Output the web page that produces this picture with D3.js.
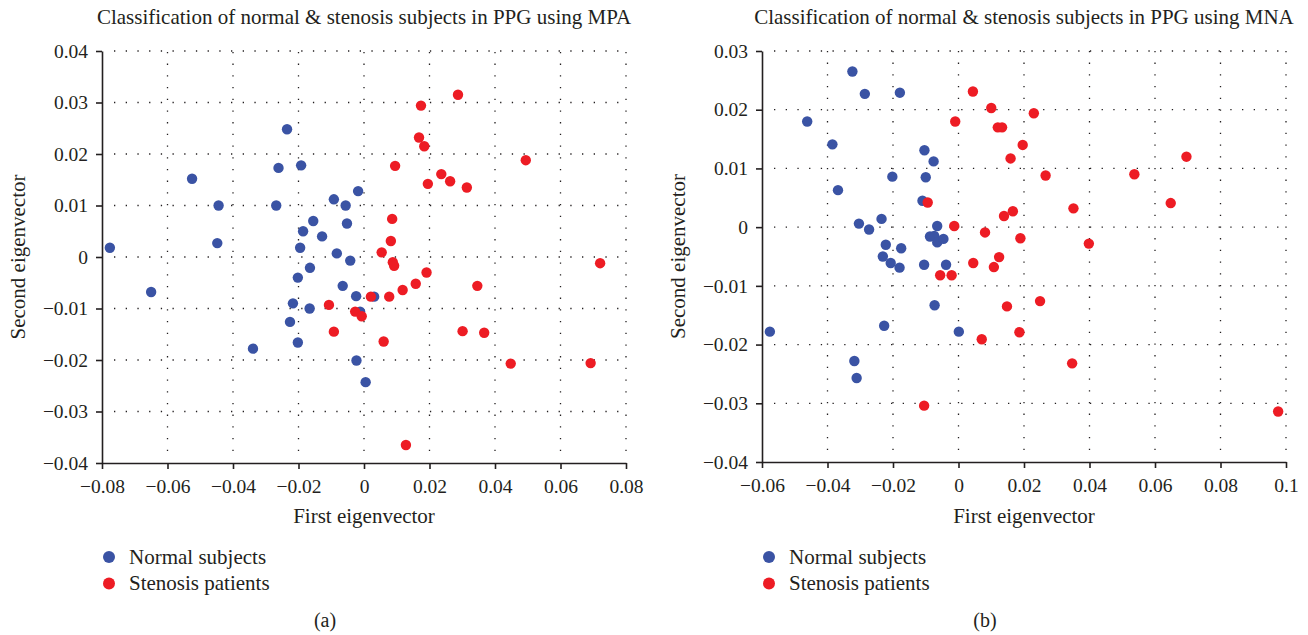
<!DOCTYPE html>
<html>
<head>
<meta charset="utf-8">
<script src="https://cdn.jsdelivr.net/npm/d3@7"></script>
<style>
    body { margin: 0; background: #fff; }
    text { font-family: "Liberation Serif", "DejaVu Serif", serif; fill: #231f20; }
</style>
</head>
<body>
<svg id="chart" width="1308" height="635"></svg>
<script>
// MPA panel (a)
const mpaNormal = [
    [-0.0776, 0.0018], [-0.0525, 0.0152], [-0.0444, 0.0100], [-0.0448, 0.0027],
    [-0.0235, 0.0248], [-0.0261, 0.0173], [-0.0192, 0.0178], [-0.0268, 0.0100],
    [-0.0092, 0.0112], [-0.0056, 0.0100], [-0.0018, 0.0128], [-0.0155, 0.0070],
    [-0.0186, 0.0050], [-0.0052, 0.0065], [-0.0128, 0.0040], [-0.0195, 0.0018],
    [-0.0083, 0.0007], [-0.0042, -0.0007], [-0.0165, -0.0021], [-0.0202, -0.0040],
    [-0.0650, -0.0068], [-0.0065, -0.0056], [-0.0024, -0.0076], [-0.0217, -0.0090],
    [-0.0166, -0.0100], [-0.0226, -0.0126], [-0.0202, -0.0166], [-0.0339, -0.0178],
    [-0.0023, -0.0201], [0.0005, -0.0243], [-0.0012, -0.0106], [0.0031, -0.0077]
];
const mpaStenosis = [
    [0.0287, 0.0315], [0.0174, 0.0294], [0.0168, 0.0232], [0.0184, 0.0215],
    [0.0494, 0.0188], [0.0095, 0.0177], [0.0236, 0.0161], [0.0263, 0.0147],
    [0.0195, 0.0142], [0.0314, 0.0135], [0.0086, 0.0074], [0.0082, 0.0031],
    [0.0054, 0.0009], [0.0088, -0.0010], [0.0092, -0.0017], [0.0721, -0.0012],
    [0.0191, -0.0030], [0.0346, -0.0056], [0.0158, -0.0052], [0.0118, -0.0064],
    [0.0077, -0.0077], [0.0021, -0.0077], [-0.0107, -0.0093], [-0.0027, -0.0106],
    [-0.0007, -0.0115], [-0.0092, -0.0145], [0.0301, -0.0144], [0.0367, -0.0147],
    [0.0060, -0.0164], [0.0448, -0.0207], [0.0692, -0.0206], [0.0128, -0.0365]
];
const mpaXTicks = [-0.08, -0.06, -0.04, -0.02, 0, 0.02, 0.04, 0.06, 0.08];
const mpaYTicks = [-0.04, -0.03, -0.02, -0.01, 0, 0.01, 0.02, 0.03, 0.04];

// MNA panel (b)
const mnaNormal = [
    [-0.0324, 0.0265], [-0.0286, 0.0227], [-0.0179, 0.0229], [-0.0462, 0.0180],
    [-0.0385, 0.0141], [-0.0368, 0.0063], [-0.0104, 0.0131], [-0.0076, 0.0112],
    [-0.0202, 0.0086], [-0.0100, 0.0085], [-0.0110, 0.0045], [-0.0304, 0.0006],
    [-0.0273, -0.0004], [-0.0235, 0.0014], [-0.0065, 0.0002], [-0.0087, -0.0016],
    [-0.0074, -0.0015], [-0.0065, -0.0026], [-0.0046, -0.0020], [-0.0222, -0.0030],
    [-0.0175, -0.0036], [-0.0231, -0.0050], [-0.0207, -0.0061], [-0.0180, -0.0069],
    [-0.0105, -0.0064], [-0.0038, -0.0064], [-0.0073, -0.0133], [-0.0227, -0.0168],
    [-0.0576, -0.0178], [0.0001, -0.0178], [-0.0318, -0.0228], [-0.0311, -0.0257]
];
const mnaStenosis = [
    [0.0044, 0.0231], [0.0100, 0.0203], [-0.0010, 0.0180], [0.0120, 0.0170],
    [0.0133, 0.0170], [0.0230, 0.0194], [0.0196, 0.0140], [0.0159, 0.0117],
    [-0.0094, 0.0042], [-0.0013, 0.0002], [0.0081, -0.0009], [0.0139, 0.0019],
    [0.0166, 0.0027], [0.0189, -0.0019], [0.0045, -0.0061], [0.0124, -0.0051],
    [0.0108, -0.0068], [-0.0056, -0.0082], [-0.0021, -0.0082], [0.0266, 0.0088],
    [0.0537, 0.0090], [0.0696, 0.0120], [0.0648, 0.0041], [0.0351, 0.0032],
    [0.0398, -0.0028], [0.0148, -0.0135], [0.0249, -0.0126], [0.0186, -0.0179],
    [0.0071, -0.0191], [0.0347, -0.0232], [0.0976, -0.0314], [-0.0105, -0.0304]
];
const mnaXTicks = [-0.06, -0.04, -0.02, 0, 0.02, 0.04, 0.06, 0.08, 0.1];
const mnaYTicks = [-0.04, -0.03, -0.02, -0.01, 0, 0.01, 0.02, 0.03];

const seriesNames = ['Normal subjects', 'Stenosis patients'];
const colors = ['#3a53a4', '#ed1c24'];
const axisColor = '#231f20';

const svg = d3.select('#chart');
const fmt = d3.format('~g');

function drawPanel(cfg) {
    const x = d3.scaleLinear().domain(cfg.xDomain).range([cfg.left, cfg.right]);
    const y = d3.scaleLinear().domain(cfg.yDomain).range([cfg.bottom, cfg.top]);
    const g = svg.append('g');

    // dotted grid
    const grid = g.append('g')
        .attr('stroke', axisColor)
        .attr('stroke-width', 1.3)
        .attr('stroke-dasharray', '1.3,10.4');

    grid.selectAll('line.v')
        .data(cfg.xTicks.slice(1))
        .enter()
        .append('line')
        .attr('x1', d => x(d))
        .attr('x2', d => x(d))
        .attr('y1', cfg.bottom - 12)
        .attr('y2', cfg.top);

    grid.selectAll('line.h')
        .data(cfg.yTicks.slice(1))
        .enter()
        .append('line')
        .attr('x1', cfg.left + 12)
        .attr('x2', cfg.right)
        .attr('y1', d => y(d))
        .attr('y2', d => y(d));

    const xAxe = d3.axisBottom(x)
        .tickValues(cfg.xTicks)
        .tickFormat(fmt)
        .tickSize(6)
        .tickSizeOuter(0)
        .tickPadding(10);

    const yAxe = d3.axisLeft(y)
        .tickValues(cfg.yTicks)
        .tickFormat(fmt)
        .tickSize(6)
        .tickSizeOuter(0)
        .tickPadding(8);

    [g.append('g').attr('transform', `translate(0, ${cfg.bottom})`).call(xAxe),
     g.append('g').attr('transform', `translate(${cfg.left}, 0)`).call(yAxe)]
        .forEach(a => {
            a.attr('font-size', null).attr('font-family', null);
            a.selectAll('path, line').attr('stroke', axisColor).attr('stroke-width', 1.6);
            a.selectAll('text')
                .style('font-size', '19.5px')
                .attr('fill', axisColor);
        });

    // points: normal first, stenosis drawn on top
    [cfg.normal, cfg.stenosis].forEach((pts, i) => {
        g.append('g')
            .selectAll('circle')
            .data(pts)
            .enter()
            .append('circle')
            .attr('cx', d => x(d[0]))
            .attr('cy', d => y(d[1]))
            .attr('r', 5.2)
            .attr('fill', colors[i]);
    });

    const cx = (cfg.left + cfg.right) / 2;

    g.append('text')
        .attr('x', cx)
        .attr('y', 24)
        .attr('text-anchor', 'middle')
        .style('font-size', '21px')
        .text(cfg.title);

    g.append('text')
        .attr('x', cx)
        .attr('y', 523)
        .attr('text-anchor', 'middle')
        .style('font-size', '21px')
        .text('First eigenvector');

    g.append('text')
        .attr('transform', `translate(${cfg.left - 77}, ${(cfg.top + cfg.bottom) / 2}) rotate(-90)`)
        .attr('text-anchor', 'middle')
        .style('font-size', '21px')
        .text('Second eigenvector');

    // legend
    const legend = g.append('g')
        .attr('transform', `translate(${cfg.left + 7}, 557)`);

    seriesNames.forEach((name, i) => {
        legend.append('circle')
            .attr('cx', 0)
            .attr('cy', i * 26.5)
            .attr('r', 6)
            .attr('fill', colors[i]);
        legend.append('text')
            .attr('x', 20)
            .attr('y', i * 26.5 + 6.5)
            .style('font-size', '21px')
            .text(name);
    });

    g.append('text')
        .attr('x', cfg.labelX)
        .attr('y', 627)
        .attr('text-anchor', 'middle')
        .style('font-size', '20px')
        .text(cfg.label);
}

drawPanel({
    title: 'Classification of normal & stenosis subjects in PPG using MPA',
    label: '(a)',
    labelX: 325,
    left: 102, right: 626, top: 51, bottom: 463,
    xDomain: [-0.08, 0.08], yDomain: [-0.04, 0.04],
    xTicks: mpaXTicks, yTicks: mpaYTicks,
    normal: mpaNormal, stenosis: mpaStenosis
});

drawPanel({
    title: 'Classification of normal & stenosis subjects in PPG using MNA',
    label: '(b)',
    labelX: 985,
    left: 762, right: 1286, top: 51, bottom: 462,
    xDomain: [-0.06, 0.1], yDomain: [-0.04, 0.03],
    xTicks: mnaXTicks, yTicks: mnaYTicks,
    normal: mnaNormal, stenosis: mnaStenosis
});
</script>
</body>
</html>
